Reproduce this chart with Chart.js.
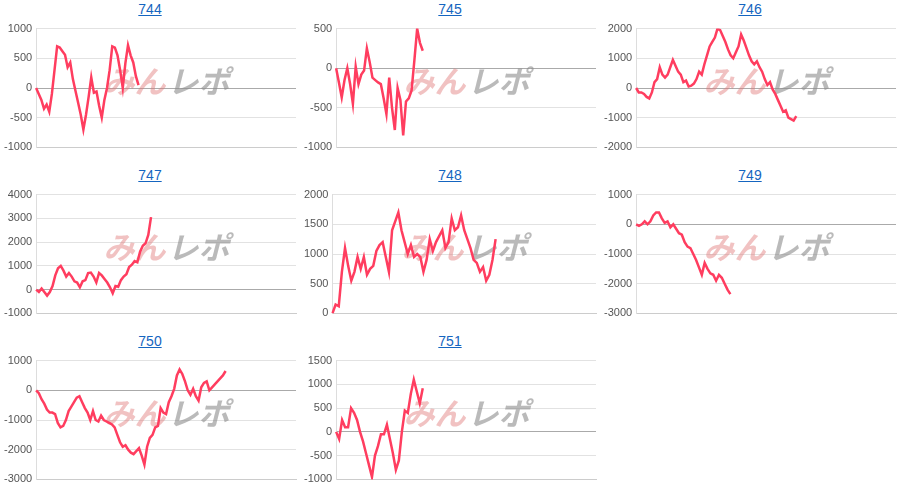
<!DOCTYPE html>
<html>
<head>
<meta charset="utf-8">
<script src="https://cdn.jsdelivr.net/npm/chart.js@4/dist/chart.umd.min.js"></script>
<style>
  body { margin: 0; background: #fff; font-family: Arial, "Liberation Sans", sans-serif; }
  .panel { position: absolute; width: 300px; height: 165px; }
  .panel a { position: absolute; top: 1px; left: 0; width: 100%; text-align: center; color: #1565c0; font-size: 14px; text-decoration: underline; }
  .panel .box { position: absolute; top: 18px; left: 0; width: 298px; height: 140px; }
</style>
</head>
<body>
<div id="wrap"></div>
<script>
const names = ['744', '745', '746', '747', '748', '749', '750', '751'];

const s744 = [0,-100,-200,-350,-280,-400,-100,300,700,680,620,560,350,430,150,-50,-250,-450,-700,-450,-150,180,-80,-60,-300,-500,-200,0,300,700,680,550,300,0,420,720,550,430,200,50];
const s745 = [0,-180,-370,-150,0,-200,-450,20,-200,-80,-30,250,80,-120,-150,-180,-200,-380,-580,-120,-500,-780,-250,-400,-850,-420,-380,-280,100,500,320,220];
const s746 = [0,-150,-150,-200,-300,-350,-150,200,300,700,450,350,450,700,950,750,550,450,200,250,50,80,150,300,550,450,800,1100,1400,1550,1700,2000,1950,1750,1550,1300,1100,1000,1200,1400,1800,1600,1350,1100,900,800,900,700,550,300,100,200,-50,-200,-400,-600,-800,-750,-1000,-1050,-1100,-950];
const s747 = [0,-100,50,-100,-250,-100,150,600,900,1000,800,550,700,550,350,300,100,350,400,700,720,550,300,700,600,450,300,100,-150,150,120,400,550,650,950,1050,1200,1150,1600,1850,1950,2300,3050];
const s748 = [0,150,120,700,1100,800,550,700,950,750,950,650,750,800,1050,1150,1200,950,700,1400,1550,1700,1400,1200,1000,1150,950,1000,950,700,900,1250,1050,1200,1300,1400,1100,1200,1600,1400,1450,1650,1400,1250,1100,900,850,700,780,550,650,900,1250];
const s749 = [0,-50,0,100,0,100,300,400,400,200,50,100,-100,0,-150,-300,-350,-600,-750,-800,-1000,-1200,-1450,-1700,-1300,-1500,-1650,-1700,-1900,-1700,-1800,-2000,-2200,-2350];
const s750 = [0,-100,-300,-450,-650,-750,-750,-800,-1100,-1250,-1200,-1000,-700,-550,-400,-250,-200,-400,-600,-750,-1000,-700,-1000,-1050,-850,-1000,-1050,-1100,-1150,-1250,-1500,-1750,-1900,-1850,-2000,-2100,-2150,-2050,-1950,-2200,-2500,-1900,-1600,-1500,-1250,-1200,-600,-750,-800,-400,-200,50,500,700,550,300,0,-150,50,-200,-350,100,250,300,0,100,200,300,400,500,650];
const s751 = [0,-150,250,100,100,500,400,250,0,-200,-450,-700,-950,-500,-300,-50,-50,150,-150,-450,-800,-600,0,450,400,800,1100,850,600,920];

const series = [s744, s745, s746, s747, s748, s749, s750, s751];
// share of the x axis each series fills
const spans = [0.40, 0.34, 0.62, 0.45, 0.62, 0.37, 0.73, 0.34];
const yMin = [-1000, -1000, -2000, -1000, 0, -3000, -3000, -1000];
const yMax = [1000, 500, 2000, 4000, 2000, 1000, 1000, 1500];
const yStep = [500, 500, 1000, 1000, 500, 1000, 1000, 500];

const watermark = {
  id: 'watermark',
  beforeDatasetsDraw(chart) {
    const { ctx, chartArea: a } = chart;
    const cx = a.left + a.width * 0.49, cy = a.top + a.height * 0.44;
    ctx.save();
    ctx.font = 'italic bold 31px "Noto Sans CJK JP"';
    ctx.textBaseline = 'middle';
    ctx.fillStyle = 'rgba(225,120,120,0.45)';
    ctx.textAlign = 'right';
    ctx.fillText('みん', cx + 2, cy);
    ctx.fillStyle = 'rgba(140,140,140,0.6)';
    ctx.textAlign = 'left';
    ctx.fillText('レポ', cx + 4, cy);
    ctx.restore();
  }
};

const wrap = document.getElementById('wrap');
names.forEach((name, i) => {
  const div = document.createElement('div');
  div.className = 'panel';
  div.style.left = (i % 3) * 300 + 'px';
  div.style.top = Math.floor(i / 3) * 166 + 'px';
  div.innerHTML = '<a>' + name + '</a><div class="box"><canvas></canvas></div>';
  wrap.appendChild(div);

  const data = series[i];
  const total = Math.round(data.length / spans[i]);
  const labels = Array.from({ length: total }, (_, k) => k + 1);

  new Chart(div.querySelector('canvas'), {
    type: 'line',
    data: {
      labels: labels,
      datasets: [{
        data: data,
        borderColor: '#ff3d5f',
        borderWidth: 2.5,
        pointRadius: 0,
        tension: 0
      }]
    },
    options: {
      responsive: true,
      maintainAspectRatio: false,
      animation: false,
      layout: { padding: { top: 6, right: 2 } },
      plugins: { legend: { display: false }, tooltip: { enabled: false } },
      scales: {
        x: {
          ticks: { display: false },
          grid: { display: false },
          border: { color: '#ccc' }
        },
        y: {
          min: yMin[i], max: yMax[i],
          ticks: { stepSize: yStep[i], color: '#555', font: { size: 11 }, padding: 4, callback: v => String(v) },
          grid: {
            drawTicks: false,
            color: ctx => ctx.tick.value === 0 ? '#aaa' : '#e2e2e2'
          },
          border: { color: '#ddd' }
        }
      }
    },
    plugins: [watermark]
  });
});
</script>
</body>
</html>
